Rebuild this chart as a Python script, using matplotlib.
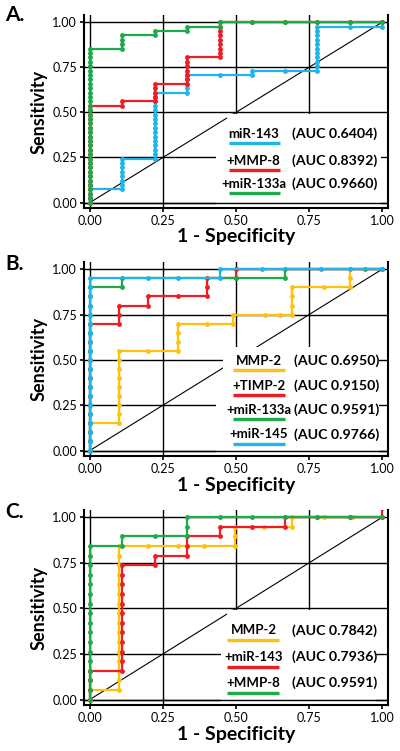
import numpy as np
import matplotlib
matplotlib.use("Agg")
import matplotlib.pyplot as plt
from matplotlib.patches import Rectangle

plt.rcParams['font.family'] = ['Lato', 'DejaVu Sans']

BLUE = "#1FB4EC"
RED = "#EE1D23"
GREEN = "#1DAA4B"
YELLOW = "#FFC10E"

# ---------------- Panel A (41 cases) ----------------
A_ncase = 41
A_blue_fpr = [0, 0, 0.111, 0.111, 0.222, 0.222, 0.333, 0.333, 0.444, 0.556, 0.556, 0.667, 0.778, 0.778, 0.889, 1.0, 1.0]
A_blue_tp = [0, 3, 3, 10, 10, 25, 25, 29, 29, 29, 30, 30, 30, 40, 40, 40, 41]
A_red_fpr = [0, 0, 0.111, 0.111, 0.222, 0.222, 0.333, 0.333, 0.444, 0.444, 0.556, 0.667, 0.778, 0.889, 1.0]
A_red_tp = [0, 22, 22, 23, 23, 27, 27, 33, 33, 41, 41, 41, 41, 41, 41]
A_green_fpr = [0, 0, 0.111, 0.111, 0.222, 0.222, 0.333, 0.333, 0.444, 0.444, 0.556, 0.667, 0.778, 0.889, 1.0]
A_green_tp = [0, 35, 35, 38, 38, 39, 39, 40, 40, 41, 41, 41, 41, 41, 41]
A_labels = ["miR-143", "+MMP-8", "+miR-133a"]
A_auc = ["(AUC 0.6404)", "(AUC 0.8392)", "(AUC 0.9660)"]

# ---------------- Panel B (20 cases) ----------------
B_ncase = 20
B_yellow_fpr = [0, 0, 0.1, 0.1, 0.2, 0.3, 0.3, 0.4, 0.49, 0.49, 0.6, 0.65, 0.69, 0.69, 0.8, 0.889, 0.889, 1.0]
B_yellow_tp = [0, 3, 3, 11, 11, 11, 14, 14, 14, 15, 15, 15, 15, 18, 18, 18, 20, 20]
B_red_fpr = [0, 0, 0.1, 0.1, 0.2, 0.2, 0.3, 0.4, 0.4, 0.5, 0.5, 1.0]
B_red_tp = [0, 14, 14, 16, 16, 17, 17, 17, 19, 19, 20, 20]
B_green_fpr = [0, 0, 0.111, 0.111, 0.5, 0.667, 0.667, 0.94, 1.0]
B_green_tp = [0, 18, 18, 19, 19, 19, 20, 20, 20]
B_blue_fpr = [0, 0, 0.2, 0.3, 0.444, 0.444, 0.59, 0.79, 0.889, 1.0]
B_blue_tp = [0, 19, 19, 19, 19, 20, 20, 20, 20, 20]
B_labels = ["MMP-2", "+TIMP-2", "+miR-133a", "+miR-145"]
B_auc = ["(AUC 0.6950)", "(AUC 0.9150)", "(AUC 0.9591)", "(AUC 0.9766)"]

# ---------------- Panel C (19 cases) ----------------
C_ncase = 19
C_yellow_fpr = [0, 0, 0.1, 0.1, 0.2, 0.3, 0.39, 0.495, 0.495, 0.595, 0.69, 0.69, 0.8, 0.9, 1.0]
C_yellow_tp = [0, 1, 1, 16, 16, 16, 16, 16, 18, 18, 18, 19, 19, 19, 19]
C_red_fpr = [0, 0, 0.111, 0.111, 0.222, 0.222, 0.333, 0.333, 0.444, 0.444, 0.556, 0.667, 0.667, 0.778, 0.889, 1.0, 1.0]
C_red_tp = [0, 3, 3, 14, 14, 15, 15, 17, 17, 18, 18, 18, 19, 19, 19, 19, 20]
C_green_fpr = [0, 0, 0.111, 0.111, 0.222, 0.333, 0.333, 0.444, 0.556, 0.667, 0.778, 0.889, 1.0]
C_green_tp = [0, 16, 16, 17, 17, 17, 19, 19, 19, 19, 19, 19, 19]
C_labels = ["MMP-2", "+miR-143", "+MMP-8"]
C_auc = ["(AUC 0.7842)", "(AUC 0.7936)", "(AUC 0.9591)"]

ticks = [0.0, 0.25, 0.5, 0.75, 1.0]
tick_labels = ["0.00", "0.25", "0.50", "0.75", "1.00"]


def roc_xy(fpr, tp, n):
    """Expand ROC corner list into one point per case step."""
    xs, ys = [fpr[0]], [tp[0] / n]
    for i in range(1, len(fpr)):
        if fpr[i] == fpr[i - 1] and tp[i] != tp[i - 1]:
            for k in range(tp[i - 1] + 1, tp[i] + 1):
                xs.append(fpr[i])
                ys.append(k / n)
        else:
            xs.append(fpr[i])
            ys.append(tp[i] / n)
    return xs, ys


W, H = 400, 751
fig = plt.figure(figsize=(W / 100, H / 100), dpi=100)


def make_panel(top_px, bottom_px, letter, letter_y, curves, ncase, labels, aucs, colors,
               boxes, row_y, lab_x, line_x, auc_x):
    ax = fig.add_axes([84 / W, 1 - bottom_px / H, 304 / W, (bottom_px - top_px) / H])
    ax.set_xlim(-0.02, 1.02)
    ax.set_ylim(-0.03, 1.04)
    for s in ['left', 'bottom', 'right']:
        ax.spines[s].set_linewidth(1.5)
        ax.spines[s].set_color('black')
    ax.spines['top'].set_visible(False)
    ax.set_xticks(ticks)
    ax.set_xticklabels(tick_labels)
    ax.set_yticks(ticks)
    ax.set_yticklabels(tick_labels)
    ax.tick_params(direction='out', length=3, width=1.2, labelsize=9, pad=2, colors='black')
    # grid lines
    for t in ticks:
        ax.axhline(t, color='black', lw=1.0, zorder=1)
    for t in ticks[:-1]:
        ax.axvline(t, color='black', lw=1.0, zorder=1)
    ax.plot([0, 1], [0, 1], color='black', lw=0.8, zorder=1.5)
    # white legend area
    for (x0, y0, x1, y1) in boxes:
        ax.add_patch(Rectangle((x0, y0), x1 - x0, y1 - y0, facecolor='white',
                               edgecolor='none', zorder=2))
    ax.axhline(0, color='black', lw=1.0, zorder=2.1)
    # curves
    for i, ((fpr, tp), c) in enumerate(zip(curves, colors)):
        xs, ys = roc_xy(fpr, tp, ncase)
        ax.plot(xs, ys, '-o', color=c, lw=1.6, ms=3.5, mew=0, zorder=3 + i)
    # legend rows
    for i, (lab, auc, c) in enumerate(zip(labels, aucs, colors)):
        y = row_y[i]
        ax.text(lab_x, y, lab, ha='center', va='center', fontsize=9.5,
                fontweight='bold', zorder=10)
        ax.plot(line_x, [y - 0.052, y - 0.052], color=c, lw=2.4, zorder=10,
                solid_capstyle='butt')
        ax.text(auc_x, y, auc, ha='left', va='center', fontsize=10.2,
                fontweight='bold', zorder=10)
    ax.set_ylabel("Sensitivity", fontsize=13, fontweight='bold')
    ax.yaxis.set_label_coords(-0.148, 0.5)
    ax.set_xlabel("1 - Specificity", fontsize=14, fontweight='bold')
    ax.xaxis.set_label_coords(0.5, -0.15)
    ax.xaxis.label.set_va('center')
    ax.yaxis.label.set_va('center')
    fig.text(15 / W, 1 - letter_y / H, letter, ha='center', va='center',
             fontsize=15, fontweight='bold')
    return ax


make_panel(15, 208, "A.", 15,
           [(A_blue_fpr, A_blue_tp), (A_red_fpr, A_red_tp), (A_green_fpr, A_green_tp)],
           A_ncase, A_labels, A_auc, [BLUE, RED, GREEN],
           boxes=[(0.47, 0.30, 0.995, 0.49), (0.43, -0.03, 0.995, 0.30)],
           row_y=[0.38, 0.232, 0.103], lab_x=0.56, line_x=[0.475, 0.65], auc_x=0.69)

make_panel(262, 456, "B.", 264,
           [(B_yellow_fpr, B_yellow_tp), (B_red_fpr, B_red_tp), (B_green_fpr, B_green_tp),
            (B_blue_fpr, B_blue_tp)],
           B_ncase, B_labels, B_auc, [YELLOW, RED, GREEN, BLUE],
           boxes=[(0.455, 0.30, 0.99, 0.57), (0.43, -0.03, 0.99, 0.30)],
           row_y=[0.494, 0.356, 0.224, 0.09], lab_x=0.578, line_x=[0.49, 0.668], auc_x=0.70)

make_panel(510, 705, "C.", 512,
           [(C_yellow_fpr, C_yellow_tp), (C_red_fpr, C_red_tp), (C_green_fpr, C_green_tp)],
           C_ncase, C_labels, C_auc, [YELLOW, RED, GREEN],
           boxes=[(0.47, 0.30, 0.98, 0.49), (0.45, -0.03, 0.98, 0.30)],
           row_y=[0.38, 0.233, 0.09], lab_x=0.56, line_x=[0.47, 0.648], auc_x=0.69)

fig.savefig("out.png", dpi=100)
